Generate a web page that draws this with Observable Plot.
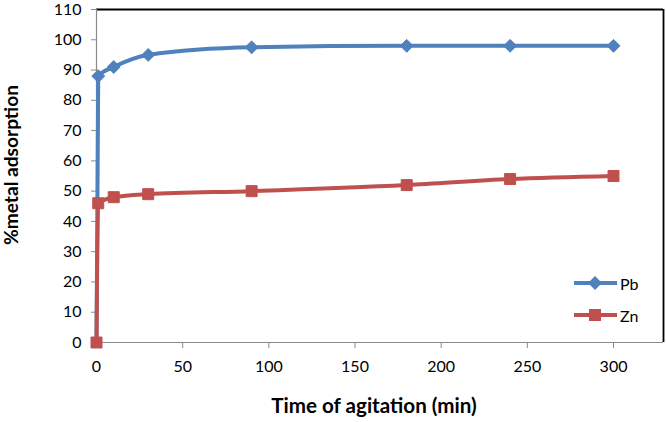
<!DOCTYPE html>
<html><head><meta charset="utf-8">
<script src="https://cdn.jsdelivr.net/npm/d3@7"></script>
<script src="https://cdn.jsdelivr.net/npm/@observablehq/plot@0.6"></script>
<style>
body{margin:0;background:#fff;font-family:Lato,"Open Sans",sans-serif;}
#wrap{position:relative;width:666px;height:422px;}
#legend{position:absolute;left:572px;top:267px;font-size:16px;color:#000;}
.row{display:flex;align-items:center;height:32px;}
</style>
</head><body>
<div id="wrap"><div id="chart"></div><div id="legend"></div></div>
<script>
const times = [0, 1, 10, 30, 90, 180, 240, 300];
const pb = [0, 88, 91, 95, 97.5, 98, 98, 98];
const zn = [0, 46, 48, 49, 50, 52, 54, 55];
const seriesNames = ["Pb", "Zn"];
const colors = ["#4F81BD", "#C0504D"];
const xTicks = [0, 50, 100, 150, 200, 250, 300];
const yTicks = [0, 10, 20, 30, 40, 50, 60, 70, 80, 90, 100, 110];
const xTitle = "Time of agitation (min)";
const yTitle = "%metal adsorption";

const pbData = times.map((t, i) => ({t, v: pb[i], s: "Pb"}));
const znData = times.map((t, i) => ({t, v: zn[i], s: "Zn"}));
const pbMarks = pbData.filter(d => d.t > 0);

const FONT = "Lato, 'Open Sans', sans-serif";
function fitSize(text, target) {
  const c = document.createElement("canvas").getContext("2d");
  c.font = "bold 100px " + FONT;
  return 100 * target / c.measureText(text).width;
}
const xTitleSize = fitSize(xTitle, 206);
const yTitleSize = fitSize(yTitle, 160);

const chart = Plot.plot({
  width: 666, height: 422,
  marginLeft: 96, marginTop: 9, marginBottom: 80, marginRight: 3,
  style: {fontFamily: FONT, fontSize: "16px", color: "#000", background: "#fff"},
  x: {domain: [0, 329], ticks: xTicks, tickSize: 0, label: null},
  y: {domain: [0, 110], ticks: yTicks, tickSize: 0, label: null},
  marks: [
    Plot.ruleY([110], {stroke: "#000", strokeWidth: 1.8}),
    Plot.ruleX([329], {stroke: "#000", strokeWidth: 1.8}),
    Plot.ruleX([0], {stroke: "#8a8a8a", strokeWidth: 1.2}),
    Plot.ruleY([0], {stroke: "#8a8a8a", strokeWidth: 1.2}),
    Plot.axisX({ticks: xTicks, tickSize: 6, stroke: "#8a8a8a", tickPadding: 12, fontSize: 16, label: null}),
    Plot.axisY({ticks: yTicks, tickSize: 5, stroke: "#8a8a8a", tickPadding: 10, fontSize: 16, label: null}),
    Plot.line(pbData, {x: "t", y: "v", stroke: colors[0], strokeWidth: 4, curve: "monotone-x"}),
    Plot.dot(pbMarks, {x: "t", y: "v", symbol: "diamond2", r: 5.8, fill: colors[0], stroke: colors[0], strokeWidth: 1}),
    Plot.line(znData, {x: "t", y: "v", stroke: colors[1], strokeWidth: 4, curve: "monotone-x"}),
    Plot.dot(znData, {x: "t", y: "v", symbol: "square", r: 6.2, fill: colors[1], stroke: colors[1], strokeWidth: 1}),
    Plot.text([yTitle], {frameAnchor: "left", textAnchor: "middle", lineAnchor: "middle", dx: -85, dy: -11, rotate: -90, fontWeight: "bold", fontSize: yTitleSize}),
    Plot.text([xTitle], {frameAnchor: "bottom", textAnchor: "middle", lineAnchor: "middle", dx: -6, dy: 64, fontWeight: "bold", fontSize: xTitleSize})
  ]
});
document.getElementById("chart").appendChild(chart);

// legend
const leg = document.getElementById("legend");
seriesNames.forEach((name, i) => {
  const sym = i === 0
    ? `<path d="M23,5 L30,12 L23,19 L16,12 Z" fill="${colors[i]}"/>`
    : `<rect x="17" y="6" width="12" height="12" fill="${colors[i]}"/>`;
  leg.innerHTML += `<div class="row"><svg width="48" height="24"><line x1="2" x2="45" y1="12" y2="12" stroke="${colors[i]}" stroke-width="4"/>${sym}</svg><span>${name}</span></div>`;
});
</script>
</body></html>
